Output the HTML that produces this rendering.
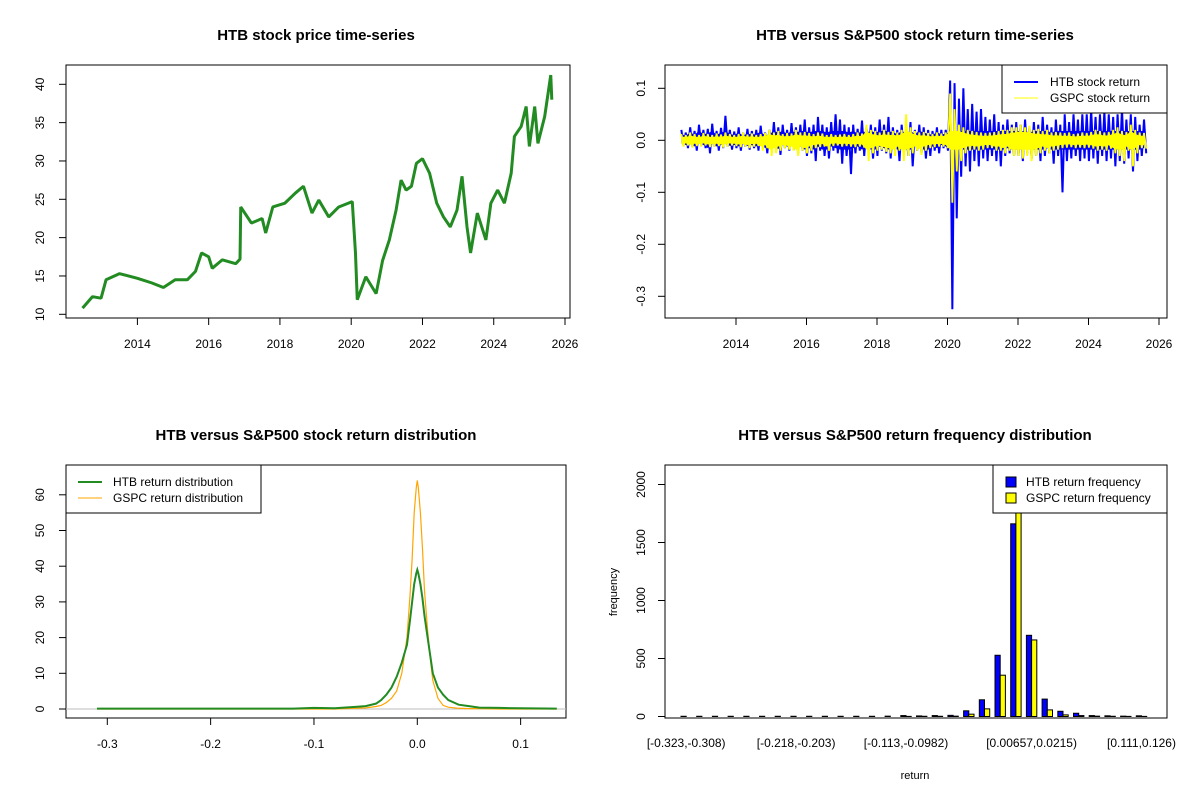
<!DOCTYPE html>
<html><head><meta charset="utf-8"><style>
html,body{margin:0;padding:0;background:#fff}
svg{display:block;font-family:"Liberation Sans",Arial,sans-serif}
</style></head><body>
<svg id="c" width="1200" height="800" viewBox="0 0 1200 800" xmlns="http://www.w3.org/2000/svg"></svg>
<script>
// ---- Panel 1: price series ----
const priceYears=[2012.46,2012.74,2012.98,2013.12,2013.5,2014.0,2014.4,2014.73,2015.06,2015.4,2015.63,2015.8,2016.0,2016.1,2016.38,2016.76,2016.88,2016.9,2017.2,2017.5,2017.6,2017.8,2018.14,2018.43,2018.66,2018.9,2019.09,2019.37,2019.65,2020.03,2020.12,2020.17,2020.41,2020.7,2020.88,2021.07,2021.26,2021.4,2021.54,2021.69,2021.83,2022.0,2022.2,2022.4,2022.59,2022.78,2022.97,2023.11,2023.25,2023.35,2023.54,2023.78,2023.92,2024.11,2024.3,2024.49,2024.58,2024.77,2024.91,2025.0,2025.15,2025.24,2025.43,2025.6,2025.63];
const priceValues=[10.8,12.3,12.1,14.5,15.3,14.7,14.1,13.5,14.5,14.5,15.6,18,17.5,16,17.1,16.6,17.2,24,21.9,22.5,20.6,24,24.5,25.8,26.7,23.2,24.9,22.7,24,24.7,18,11.9,14.9,12.7,17,19.7,23.6,27.5,26.2,26.7,29.7,30.3,28.4,24.5,22.7,21.4,23.6,28,21.4,18,23.2,19.7,24.5,26.2,24.5,28.4,33.2,34.5,37.1,31.9,37.1,32.3,35.8,41.2,38];
const priceYTicks=[10,15,20,25,30,35,40];
const yearTicks=[2014,2016,2018,2020,2022,2024,2026];
// ---- Panel 2: returns (per 1/8-year period high/low extremes) ----
const retStart=2012.45, retStep=0.125;
const htbHi=[0.02,0.015,0.025,0.018,0.03,0.02,0.022,0.032,0.018,0.024,0.047,0.02,
0.017,0.025,0.015,0.022,0.018,0.02,0.028,0.015,0.02,0.035,0.025,0.03,0.02,0.033,0.025,0.03,
0.04,0.025,0.03,0.045,0.03,0.025,0.035,0.05,0.04,0.03,0.025,0.03,0.022,0.038,0.025,0.03,
0.025,0.04,0.03,0.045,0.025,0.02,0.03,0.022,0.035,0.02,0.03,0.025,0.02,0.018,0.025,0.02,
0.02,0.115,0.11,0.08,0.1,0.06,0.07,0.055,0.06,0.045,0.04,0.05,0.035,0.03,0.04,0.03,
0.035,0.03,0.04,0.025,0.035,0.03,0.045,0.03,0.025,0.04,0.03,0.05,0.035,0.05,0.04,0.05,
0.05,0.06,0.045,0.05,0.055,0.05,0.045,0.05,0.06,0.04,0.05,0.045,0.03,0.04];
const htbLo=[-0.01,-0.015,-0.012,-0.02,-0.01,-0.015,-0.025,-0.012,-0.02,-0.015,-0.012,-0.018,
-0.015,-0.02,-0.012,-0.018,-0.015,-0.02,-0.012,-0.025,-0.015,-0.02,-0.028,-0.015,-0.02,-0.018,-0.025,-0.02,
-0.03,-0.025,-0.04,-0.02,-0.03,-0.035,-0.02,-0.025,-0.045,-0.03,-0.065,-0.025,-0.02,-0.03,-0.022,-0.035,
-0.03,-0.02,-0.025,-0.035,-0.02,-0.04,-0.025,-0.03,-0.05,-0.02,-0.025,-0.035,-0.03,-0.02,-0.025,-0.015,
-0.02,-0.325,-0.15,-0.07,-0.05,-0.06,-0.04,-0.05,-0.035,-0.04,-0.03,-0.04,-0.05,-0.03,-0.025,-0.03,
-0.03,-0.04,-0.025,-0.035,-0.03,-0.04,-0.03,-0.025,-0.045,-0.03,-0.1,-0.04,-0.035,-0.03,-0.04,-0.035,
-0.04,-0.035,-0.045,-0.03,-0.04,-0.035,-0.05,-0.04,-0.045,-0.035,-0.06,-0.04,-0.03,-0.025];
const gspcHi=[0.012,0.01,0.015,0.012,0.01,0.014,0.012,0.01,0.013,0.011,0.015,0.012,
0.01,0.012,0.015,0.011,0.013,0.01,0.012,0.014,0.02,0.015,0.018,0.012,0.014,0.013,0.02,0.015,
0.016,0.014,0.012,0.015,0.013,0.01,0.012,0.01,0.011,0.012,0.01,0.012,0.015,0.013,0.03,0.02,
0.018,0.015,0.02,0.016,0.018,0.015,0.02,0.05,0.025,0.018,0.015,0.016,0.014,0.012,0.015,0.013,
0.015,0.09,0.06,0.03,0.025,0.02,0.018,0.016,0.015,0.014,0.015,0.016,0.018,0.02,0.02,0.025,
0.025,0.03,0.025,0.028,0.02,0.022,0.018,0.02,0.015,0.016,0.015,0.014,0.015,0.012,0.013,0.015,
0.014,0.016,0.02,0.018,0.015,0.016,0.02,0.025,0.018,0.016,0.03,0.02,0.015,0.014];
const gspcLo=[-0.012,-0.01,-0.014,-0.011,-0.012,-0.01,-0.013,-0.012,-0.011,-0.014,-0.012,-0.01,
-0.011,-0.013,-0.012,-0.015,-0.012,-0.011,-0.02,-0.015,-0.03,-0.025,-0.02,-0.015,-0.018,-0.02,-0.03,-0.02,
-0.025,-0.02,-0.015,-0.013,-0.012,-0.02,-0.011,-0.01,-0.012,-0.011,-0.012,-0.013,-0.012,-0.014,-0.04,-0.025,
-0.02,-0.018,-0.022,-0.025,-0.03,-0.02,-0.04,-0.03,-0.025,-0.02,-0.028,-0.02,-0.015,-0.013,-0.012,-0.012,
-0.015,-0.12,-0.06,-0.04,-0.025,-0.02,-0.018,-0.02,-0.018,-0.015,-0.015,-0.02,-0.02,-0.025,-0.02,-0.03,
-0.03,-0.035,-0.03,-0.04,-0.03,-0.025,-0.02,-0.025,-0.02,-0.018,-0.015,-0.014,-0.013,-0.015,-0.014,-0.015,
-0.014,-0.016,-0.02,-0.018,-0.02,-0.016,-0.025,-0.03,-0.04,-0.02,-0.05,-0.025,-0.015,-0.016];
const retYTicks=[-0.3,-0.2,-0.1,0.0,0.1];
// ---- Panel 3: densities ----
const densX=[-0.31,-0.2,-0.12,-0.1,-0.08,-0.06,-0.05,-0.04,-0.035,-0.03,-0.025,-0.02,-0.015,-0.01,-0.007,-0.005,-0.003,-0.001,0,0.001,0.003,0.005,0.007,0.01,0.013,0.015,0.02,0.025,0.03,0.04,0.05,0.06,0.08,0.1,0.135];
const htbDens=[0.1,0.1,0.1,0.3,0.2,0.6,0.8,1.5,2.5,4,6,9,13,18,25,30,35,38,39,38,35,31,26,20,14,10,6,4,2.5,1.2,0.8,0.4,0.3,0.2,0.1];
const gspcDens=[0,0,0,0,0,0.2,0.3,0.7,1,1.8,3,5,10,20,32,42,55,62,64,62,55,45,33,22,13,8,3,1,0.5,0.2,0.1,0.1,0,0,0];
const densXTicks=[-0.3,-0.2,-0.1,0.0,0.1];
const densYTicks=[0,10,20,30,40,50,60];
// ---- Panel 4: histogram ----
const binLabels={0:"[-0.323,-0.308)",7:"[-0.218,-0.203)",14:"[-0.113,-0.0982)",22:"[0.00657,0.0215)",29:"[0.111,0.126)"};
const htbFreq=[2,2,2,2,2,2,2,2,2,2,2,2,2,3,8,5,8,10,49,144,528,1661,700,150,45,28,8,6,3,6];
const gspcFreq=[0,0,0,0,0,0,0,0,0,0,0,0,0,0,1,2,2,3,20,66,356,2080,660,57,14,8,3,2,1,1];
const freqTicks=[0,500,1000,1500,2000];

const svg=document.getElementById('c');
const NS="http://www.w3.org/2000/svg";
function el(tag,attrs,parent){const e=document.createElementNS(NS,tag);for(const k in attrs)e.setAttribute(k,attrs[k]);(parent||svg).appendChild(e);return e;}
function txt(s,x,y,attrs,parent){const t=el('text',Object.assign({x:x,y:y,'font-size':12,fill:'#000','text-anchor':'middle'},attrs||{}),parent);t.textContent=s;return t;}
function lin(d0,d1,r0,r1){return v=>r0+(v-d0)*(r1-r0)/(d1-d0);}
function box(x0,y0,x1,y1,name){const r=el('rect',{x:x0,y:y0,width:x1-x0,height:y1-y0,fill:'none',stroke:'#000','stroke-width':1});}
function yAxis(ticks,sy,x0,name,fmt,off){const g=el('g',{});
 el('line',{x1:x0,x2:x0,y1:sy(ticks[0]),y2:sy(ticks[ticks.length-1]),stroke:'#000'},g);
 ticks.forEach(v=>{const y=sy(v);el('line',{x1:x0-7,x2:x0,y1:y,y2:y,stroke:'#000'},g);
 const lx=x0-off;
 txt(fmt?fmt(v):String(v),lx,y,{transform:`rotate(-90 ${lx} ${y})`,'dominant-baseline':'middle'},g);});}
function xAxis(ticks,sx,y0,name,fmt){const g=el('g',{});
 el('line',{x1:sx(ticks[0]),x2:sx(ticks[ticks.length-1]),y1:y0,y2:y0,stroke:'#000'},g);
 ticks.forEach(v=>{const x=sx(v);el('line',{x1:x,x2:x,y1:y0,y2:y0+7,stroke:'#000'},g);txt(fmt?fmt(v):String(v),x,y0+30,{},g);});}
function title(s,x,y,name){const t=txt(s,x,y,{'font-size':15,'font-weight':'bold'});}

// Panel 1
{const sx=lin(2014,2026,137.4,565),sy=lin(10,40,314.3,84.3);
 title("HTB stock price time-series",316,40,'price-chart-title');
 box(66,65,570,318,'price-plot-area');
 yAxis(priceYTicks,sy,66,'price-y-axis',null,25);
 xAxis(yearTicks,sx,318,'price-x-axis');
 const p=el('polyline',{points:priceYears.map((y,i)=>sx(y)+','+sy(priceValues[i])).join(' '),fill:'none',stroke:'#228b22','stroke-width':3,'stroke-linejoin':'bevel'});
 }

// Panel 2
{const sx=lin(2014,2026,736,1159),sy=lin(0,0.1,140.3,88.3);
 title("HTB versus S&P500 stock return time-series",915,40,'return-chart-title');
 box(665,65,1167,318,'return-plot-area');
 yAxis(retYTicks,sy,665,'return-y-axis',v=>v.toFixed(1),23);
 xAxis(yearTicks,sx,318,'return-x-axis');
 function zig(hi,lo,color,w,name){const pts=[];hi.forEach((h,i)=>{const t=retStart+i*retStep;pts.push(sx(t)+','+sy(h));pts.push(sx(t+retStep/2)+','+sy(lo[i]));});
  const p=el('polyline',{points:pts.join(' '),fill:'none',stroke:color,'stroke-width':w});}
 function band(hi,lo,k,color,name){const top=hi.map((h,i)=>sx(retStart+i*retStep)+','+sy(Math.min(h,0.03)*k));
  const bot=lo.map((l,i)=>sx(retStart+i*retStep)+','+sy(Math.max(l,-0.03)*k)).reverse();
  const p=el('polygon',{points:top.concat(bot).join(' '),fill:color,stroke:'none'});}
 band(htbHi,htbLo,0.6,'#0000ff','htb-return-core');
 zig(htbHi,htbLo,'#0000ff',2,'htb-return-line');
 band(gspcHi,gspcLo,0.6,'#ffff00','gspc-return-core');
 zig(gspcHi,gspcLo,'#ffff00',1.8,'gspc-return-line');
 const g=el('g',{});
 el('rect',{x:1002,y:65,width:165,height:48,fill:'#fff',stroke:'#000'},g);
 el('line',{x1:1014,x2:1038,y1:82,y2:82,stroke:'#0000ff','stroke-width':2},g);
 el('line',{x1:1014,x2:1038,y1:98,y2:98,stroke:'#ffff00','stroke-width':1},g);
 txt("HTB stock return",1050,86,{'text-anchor':'start'},g);
 txt("GSPC stock return",1050,102,{'text-anchor':'start'},g);}

// Panel 3
{const sx=lin(-0.3,0,107.3,417.3),sy=lin(0,60,709,494.8);
 title("HTB versus S&P500 stock return distribution",316,440,'density-chart-title');
 box(66,465,566,718,'density-plot-area');
 yAxis(densYTicks,sy,66,'density-y-axis',null,25);
 xAxis(densXTicks,sx,718,'density-x-axis',v=>v.toFixed(1));
 el('line',{x1:66,x2:566,y1:sy(0),y2:sy(0),stroke:'#bebebe'});
 const p2=el('polyline',{points:densX.map((x,i)=>sx(x)+','+sy(gspcDens[i])).join(' '),fill:'none',stroke:'#ffa500','stroke-width':1.2});
 
 const p1=el('polyline',{points:densX.map((x,i)=>sx(x)+','+sy(htbDens[i])).join(' '),fill:'none',stroke:'#228b22','stroke-width':2});
 
 const g=el('g',{});
 el('rect',{x:66,y:465,width:195,height:48,fill:'#fff',stroke:'#000'},g);
 el('line',{x1:78,x2:102,y1:482,y2:482,stroke:'#228b22','stroke-width':2},g);
 el('line',{x1:78,x2:102,y1:498,y2:498,stroke:'#ffa500','stroke-width':1},g);
 txt("HTB return distribution",113,486,{'text-anchor':'start'},g);
 txt("GSPC return distribution",113,502,{'text-anchor':'start'},g);}

// Panel 4
{const sy=lin(0,2000,716.5,484.5),x0=681,gw=15.7,bw=5.2;
 title("HTB versus S&P500 return frequency distribution",915,440,'histogram-chart-title');
 box(665,465,1167,718,'histogram-plot-area');
 yAxis(freqTicks,sy,665,'frequency-y-axis',null,23);
 const gx=el('g',{});
 htbFreq.forEach((v,i)=>{const x=x0+i*gw;
  const b1=el('rect',{x:x,y:sy(v),width:bw,height:sy(0)-sy(v),fill:'#0000ff',stroke:'#000','stroke-width':1});
  
  const w=gspcFreq[i];
  const b2=el('rect',{x:x+bw,y:sy(w),width:bw,height:sy(0)-sy(w),fill:'#ffff00',stroke:'#000','stroke-width':1});
  
  if(binLabels[i])txt(binLabels[i],x+bw,747,{},gx);});
 const yl=txt("frequency",617,592,{transform:'rotate(-90 617 592)','font-size':11});
 const xl=txt("return",915,779,{'font-size':11});
 const g=el('g',{});
 el('rect',{x:993,y:465,width:174,height:48,fill:'#fff',stroke:'#000'},g);
 el('rect',{x:1006,y:477,width:10,height:10,fill:'#0000ff',stroke:'#000'},g);
 el('rect',{x:1006,y:493,width:10,height:10,fill:'#ffff00',stroke:'#000'},g);
 txt("HTB return frequency",1026,486,{'text-anchor':'start'},g);
 txt("GSPC return frequency",1026,502,{'text-anchor':'start'},g);}
</script>
</body></html>
